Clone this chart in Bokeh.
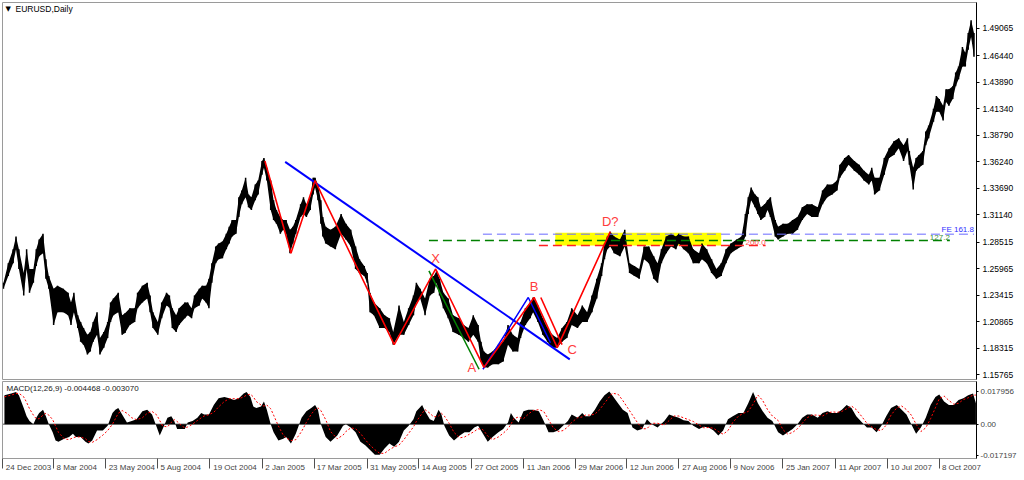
from bokeh.plotting import figure
from bokeh.layouts import column
from bokeh.models import FixedTicker, NumeralTickFormatter, Label, Span, Range1d, ColumnDataSource
from bokeh.embed import file_html
from bokeh.resources import INLINE
from bokeh.core.properties import value

FONT = "Liberation Sans"

# ---------------- price data (bar index, high, low) ----------------
bars = [0,5,10,13,16,21,24,27,31,34,37,41,44,47,52,56,62,67,70,73,77,80,83,87,90,93,97,100,104,108,
        111,114,119,123,126,131,136,139,144,149,152,155,160,164,169,172,175,179,182,188,191,195,198,203,
        206,210,213,216,220,223,227,231,234,237,241,244,247,251,254,257,261,264,268,270,273,277,280,283,
        287,290,293,297,300,303,308,311,314,318,321,323,326,329,331,334,339,344,350,355,360,365,369,374,
        377,380,384,390,395,400,404,410,415,420,425,428,432,437,442,446,449,452,456,461,466,472,477,482,
        487,492,495,498,502,507,513,518,523,528,533,536,541,546,549,554,559,564,569,574,579,584,589,595,
        600,605,610,615,620,623,626,629,633,639,644,649,654,659,664,669,674,678,682,687,692,697,700,705,
        710,715,721,724,729,734,739,744,749,754,760,765,769,772,775,779,782,785,789,792,795,800,803,808,
        813,818,823,828,833,838,844,849,854,859,864,867,872,876,882,887,892,897,900,903,908,913,918,923,
        928,933,937,939,943,946,949,953,956,959,964,967,970,974,977,980,984,987,990,994,997,1000,1003,1006]

high = [1.2459,1.2648,1.2781,1.2904,1.2781,1.2554,1.2781,1.2591,1.2591,1.2781,1.2875,1.2932,1.2686,1.2525,
        1.2402,1.2431,1.2402,1.2364,1.2270,1.2364,1.2147,1.2081,1.2024,1.1958,1.1986,1.2081,1.2175,1.1929,
        1.1986,1.2081,1.2270,1.2308,1.2364,1.2147,1.2166,1.2213,1.2213,1.2364,1.2431,1.2459,1.2336,1.2175,
        1.2081,1.2270,1.2364,1.2336,1.2213,1.2147,1.2213,1.2270,1.2270,1.2213,1.2336,1.2402,1.2431,1.2431,
        1.2497,1.2648,1.2809,1.2837,1.2856,1.2932,1.2998,1.3064,1.3064,1.3282,1.3348,1.3471,1.3310,1.3282,
        1.3405,1.3443,1.3632,1.3660,1.3566,1.3443,1.3254,1.3159,1.3093,1.3064,1.3064,1.2970,1.2998,1.3064,
        1.3216,1.3282,1.3216,1.3282,1.3471,1.3471,1.3405,1.3254,1.3093,1.2998,1.2970,1.2998,1.3121,1.3027,
        1.2970,1.2809,1.2686,1.2620,1.2554,1.2364,1.2270,1.2213,1.2147,1.2118,1.1986,1.2241,1.2081,1.2213,
        1.2336,1.2459,1.2402,1.2308,1.2497,1.2525,1.2572,1.2497,1.2364,1.2308,1.2147,1.2118,1.2052,1.2024,
        1.2147,1.2052,1.1891,1.1797,1.1768,1.1797,1.1863,1.1891,1.2052,1.1958,1.1929,1.2081,1.2213,1.2270,
        1.2317,1.2241,1.2118,1.2024,1.1958,1.1929,1.2024,1.2081,1.2213,1.2147,1.2241,1.2175,1.2336,1.2497,
        1.2648,1.2837,1.2904,1.2951,1.2904,1.2875,1.2970,1.2648,1.2620,1.2591,1.2809,1.2809,1.2714,1.2648,
        1.2781,1.2904,1.2932,1.2904,1.2932,1.2904,1.2904,1.2781,1.2743,1.2837,1.2781,1.2686,1.2591,1.2648,
        1.2781,1.2837,1.2875,1.2904,1.3121,1.3282,1.3377,1.3310,1.3282,1.3187,1.3216,1.3254,1.3282,1.3064,
        1.2998,1.3027,1.3027,1.3064,1.3093,1.3187,1.3216,1.3216,1.3187,1.3348,1.3405,1.3405,1.3443,1.3594,
        1.3660,1.3689,1.3632,1.3594,1.3537,1.3500,1.3566,1.3471,1.3471,1.3660,1.3755,1.3821,1.3850,1.3783,
        1.3850,1.3727,1.3566,1.3660,1.3689,1.3727,1.3916,1.3973,1.4133,1.4256,1.4228,1.4162,1.4323,1.4323,
        1.4351,1.4483,1.4540,1.4729,1.4673,1.4862,1.4985,1.4862]

low = [1.2402,1.2525,1.2648,1.2781,1.2591,1.2336,1.2591,1.2364,1.2459,1.2620,1.2714,1.2743,1.2497,1.2402,
       1.2052,1.2175,1.2175,1.2147,1.2052,1.2175,1.2024,1.1891,1.1863,1.1768,1.1797,1.1891,1.1958,1.1768,
       1.1835,1.1929,1.2081,1.2147,1.2175,1.1958,1.1977,1.2052,1.2081,1.2213,1.2270,1.2308,1.2175,1.2024,
       1.1958,1.2118,1.2241,1.2222,1.2024,1.1986,1.2052,1.2118,1.2147,1.2118,1.2213,1.2241,1.2308,1.2270,
       1.2213,1.2459,1.2648,1.2686,1.2696,1.2781,1.2837,1.2904,1.2932,1.3093,1.3216,1.3282,1.3187,1.3159,
       1.3254,1.3310,1.3500,1.3566,1.3443,1.3159,1.3064,1.3027,1.2932,1.2970,1.2932,1.2743,1.2837,1.2932,
       1.3093,1.3121,1.3093,1.3159,1.3310,1.3377,1.3254,1.3027,1.2904,1.2837,1.2809,1.2781,1.2932,1.2875,
       1.2809,1.2591,1.2554,1.2525,1.2459,1.2175,1.2147,1.2024,1.2024,1.1986,1.1863,1.1958,1.1958,1.2052,
       1.2147,1.2270,1.2308,1.2147,1.2336,1.2364,1.2459,1.2336,1.2213,1.2118,1.1986,1.1958,1.1929,1.1891,
       1.1958,1.1891,1.1702,1.1645,1.1645,1.1674,1.1674,1.1702,1.1863,1.1797,1.1797,1.1929,1.2052,1.2118,
       1.2175,1.2081,1.1958,1.1891,1.1835,1.1835,1.1891,1.1929,1.2052,1.2024,1.2081,1.2081,1.2175,1.2308,
       1.2525,1.2686,1.2781,1.2809,1.2743,1.2714,1.2809,1.2554,1.2525,1.2497,1.2686,1.2648,1.2497,1.2459,
       1.2648,1.2743,1.2809,1.2781,1.2837,1.2781,1.2743,1.2648,1.2648,1.2686,1.2648,1.2554,1.2497,1.2525,
       1.2648,1.2743,1.2781,1.2809,1.2904,1.3121,1.3254,1.3187,1.3121,1.3064,1.3093,1.3159,1.3093,1.2904,
       1.2875,1.2904,1.2932,1.2932,1.2970,1.3064,1.3121,1.3093,1.3093,1.3216,1.3282,1.3310,1.3348,1.3471,
       1.3537,1.3594,1.3537,1.3500,1.3443,1.3405,1.3443,1.3310,1.3348,1.3500,1.3660,1.3689,1.3755,1.3632,
       1.3727,1.3594,1.3358,1.3537,1.3566,1.3594,1.3783,1.3850,1.4010,1.4105,1.4105,1.4020,1.4200,1.4162,
       1.4228,1.4351,1.4417,1.4540,1.4540,1.4701,1.4824,1.4635]

# ---------------- MACD(12,26,9) ----------------
macd_bars = [1,8,13,16,21,24,27,31,34,37,41,44,47,51,54,57,63,68,72,75,80,85,88,92,97,103,108,113,116,119,
             123,128,133,138,144,149,154,159,162,165,170,174,177,180,185,188,191,196,201,205,208,213,218,223,
             229,234,239,244,249,252,256,259,262,267,270,273,277,280,285,290,293,298,303,309,314,319,323,326,
             329,334,339,346,352,355,360,365,370,375,380,385,390,395,400,405,410,415,420,425,428,434,437,442,
             446,451,454,457,462,467,473,478,483,488,492,497,502,507,513,518,523,526,529,534,539,544,549,555,
             560,565,570,575,580,585,589,595,600,603,608,613,618,623,628,631,637,642,647,652,657,662,667,672,
             678,685,690,695,700,705,710,715,721,726,731,736,741,746,751,756,762,767,772,777,782,787,792,797,
             803,808,813,818,823,828,833,838,844,849,854,859,864,869,874,879,884,890,895,900,905,910,915,920,
             926,931,936,941,946,951,956,961,966,970,975,980,985,990,995,1000,1005,1008]

macd = [0.0159,0.0168,0.0177,0.0159,0.0089,0.0044,0.0018,0.0000,0.0035,0.0062,0.0080,0.0044,0.0000,-0.0044,
        -0.0089,-0.0097,-0.0080,-0.0071,-0.0053,-0.0071,-0.0071,-0.0097,-0.0106,-0.0089,-0.0035,-0.0035,-0.0009,
        0.0062,0.0080,0.0089,0.0053,0.0009,0.0018,0.0027,0.0071,0.0080,0.0053,-0.0018,-0.0062,-0.0027,0.0035,
        0.0044,0.0018,-0.0027,-0.0027,-0.0027,0.0009,0.0018,0.0035,0.0062,0.0053,0.0053,0.0106,0.0142,0.0150,
        0.0142,0.0133,0.0142,0.0168,0.0177,0.0150,0.0097,0.0089,0.0097,0.0124,0.0080,0.0000,-0.0044,-0.0089,
        -0.0080,-0.0071,-0.0106,-0.0053,0.0035,0.0071,0.0089,0.0106,0.0080,0.0000,-0.0071,-0.0097,-0.0062,
        -0.0009,0.0000,-0.0018,-0.0044,-0.0097,-0.0115,-0.0142,-0.0168,-0.0168,-0.0133,-0.0106,-0.0124,-0.0097,
        -0.0035,-0.0009,0.0027,0.0071,0.0106,0.0071,0.0027,0.0018,0.0080,0.0053,-0.0009,-0.0062,-0.0089,-0.0062,
        -0.0044,-0.0044,-0.0018,-0.0009,-0.0053,-0.0097,-0.0071,-0.0044,-0.0027,0.0009,0.0062,0.0035,0.0009,
        0.0071,0.0080,0.0080,0.0071,0.0018,-0.0044,-0.0044,-0.0035,-0.0009,0.0018,0.0053,0.0035,0.0062,0.0044,
        0.0044,0.0080,0.0124,0.0159,0.0179,0.0159,0.0115,0.0080,0.0062,-0.0018,-0.0035,-0.0027,0.0027,0.0000,
        -0.0018,0.0018,0.0053,0.0044,0.0035,0.0021,0.0018,-0.0009,-0.0027,-0.0014,-0.0018,-0.0035,-0.0062,-0.0035,
        0.0027,0.0044,0.0062,0.0062,0.0115,0.0177,0.0115,0.0071,0.0035,0.0018,-0.0044,-0.0062,-0.0044,-0.0027,
        0.0000,0.0035,0.0053,0.0053,0.0035,0.0062,0.0071,0.0062,0.0062,0.0080,0.0106,0.0089,0.0044,0.0009,
        -0.0018,-0.0018,-0.0044,-0.0009,0.0044,0.0089,0.0106,0.0080,0.0053,0.0000,-0.0053,-0.0018,0.0035,0.0106,
        0.0150,0.0163,0.0124,0.0106,0.0106,0.0133,0.0142,0.0159,0.0168,0.0115]

signal = [0.0150,0.0160,0.0168,0.0170,0.0150,0.0120,0.0085,0.0050,0.0030,0.0030,0.0050,0.0060,0.0050,0.0025,
          -0.0010,-0.0045,-0.0080,-0.0085,-0.0075,-0.0070,-0.0070,-0.0080,-0.0095,-0.0100,-0.0085,-0.0060,-0.0035,
          0.0000,0.0030,0.0060,0.0075,0.0060,0.0035,0.0025,0.0035,0.0060,0.0070,0.0050,0.0020,-0.0010,-0.0015,
          0.0010,0.0025,0.0015,-0.0010,-0.0020,-0.0015,0.0000,0.0020,0.0035,0.0045,0.0052,0.0065,0.0095,0.0125,
          0.0140,0.0140,0.0140,0.0150,0.0160,0.0165,0.0150,0.0125,0.0105,0.0100,0.0105,0.0085,0.0050,-0.0010,
          -0.0060,-0.0075,-0.0090,-0.0085,-0.0040,0.0010,0.0055,0.0080,0.0090,0.0075,0.0025,-0.0040,-0.0080,
          -0.0060,-0.0040,-0.0020,-0.0025,-0.0050,-0.0085,-0.0115,-0.0140,-0.0160,-0.0160,-0.0140,-0.0125,-0.0115,
          -0.0085,-0.0050,-0.0015,0.0015,0.0060,0.0080,0.0060,0.0040,0.0045,0.0060,0.0045,0.0005,-0.0045,-0.0075,
          -0.0070,-0.0055,-0.0040,-0.0025,-0.0030,-0.0065,-0.0085,-0.0070,-0.0050,-0.0025,0.0000,0.0030,0.0040,
          0.0030,0.0055,0.0075,0.0080,0.0070,0.0025,-0.0020,-0.0040,-0.0035,-0.0015,0.0010,0.0035,0.0040,0.0050,
          0.0050,0.0055,0.0080,0.0115,0.0150,0.0170,0.0165,0.0130,0.0090,0.0050,0.0010,-0.0025,-0.0025,0.0005,
          0.0005,-0.0005,0.0020,0.0045,0.0045,0.0035,0.0025,0.0015,-0.0005,-0.0020,-0.0018,-0.0022,-0.0040,-0.0055,
          -0.0035,0.0010,0.0045,0.0060,0.0070,0.0110,0.0160,0.0130,0.0080,0.0045,0.0020,-0.0030,-0.0055,-0.0045,
          -0.0025,0.0005,0.0035,0.0050,0.0050,0.0045,0.0060,0.0068,0.0065,0.0070,0.0085,0.0100,0.0080,0.0040,
          0.0005,-0.0015,-0.0030,-0.0035,-0.0005,0.0050,0.0090,0.0100,0.0080,0.0050,0.0000,-0.0040,-0.0020,0.0030,
          0.0090,0.0140,0.0155,0.0130,0.0110,0.0115,0.0135,0.0145,0.0160,0.0160]

assert len(bars) == len(high) == len(low), (len(bars), len(high), len(low))
assert len(macd_bars) == len(macd) == len(signal), (len(macd_bars), len(macd), len(signal))

# ---------------- axes ----------------
price_ticks = [1.15765, 1.18315, 1.20865, 1.23415, 1.25965, 1.28515, 1.31140,
               1.33690, 1.36240, 1.38790, 1.41340, 1.43890, 1.46440, 1.49065]
macd_ticks = [-0.017197, 0.0, 0.017956]
macd_tick_text = ["-0.017197", "0.00", "0.017956"]
date_labels = ["24 Dec 2003", "8 Mar 2004", "23 May 2004", "5 Aug 2004", "19 Oct 2004", "2 Jan 2005",
               "17 Mar 2005", "31 May 2005", "14 Aug 2005", "27 Oct 2005", "11 Jan 2006", "29 Mar 2006",
               "12 Jun 2006", "27 Aug 2006", "9 Nov 2006", "25 Jan 2007", "11 Apr 2007", "10 Jul 2007",
               "8 Oct 2007"]
date_bars = [-1, 52, 106, 160, 214, 268, 322, 377, 430, 485, 539, 593, 646, 700, 754, 808, 862, 916, 970]

# ---------------- drawn objects ----------------
trend_bars = [292, 587]
trend_prices = [1.3623, 1.1722]
zigzag_bars = [271, 298, 323, 405, 448, 498, 550, 574, 629]
zigzag_prices = [1.3632, 1.2743, 1.3443, 1.1864, 1.2592, 1.1645, 1.2318, 1.1835, 1.2951]
bc2_bars = [557, 579]
bc2_prices = [1.2318, 1.1864]
abc_bars = [497, 544, 567]
abc_prices = [1.1627, 1.2318, 1.1882]
xa_bars = [441, 493]
xa_prices = [1.2573, 1.1627]
zone_bars = [572, 744]
zone_prices = [1.2818, 1.2941]
level_names = ["FE 161.8", "127.2", "200.0"]
level_values = [1.2927, 1.2866, 1.2818]
level_start = [497, 441, 555]
level_end = [1006, 981, 790]
pat_names = ["X", "A", "B", "C", "D?"]
pat_bars = [448, 498, 550, 574, 629]
pat_prices = [1.2592, 1.1645, 1.2318, 1.1835, 1.2951]

# styles
level_line_colors = ["#7070ff", "#008000", "#ff2020"]
level_line_alpha = [0.7, 1.0, 1.0]
level_text_colors = ["#3030ff", "#3a8f3a", "#ff5050"]
pat_dx = [0, -12, 0, 15, 0]
pat_dy = [-10, 0, -11, 2, -10]

X0, X1 = -1.0, 1008.6
FW = 974
HM = 377
HD = 77
xr = Range1d(X0, X1)

def style_common(p):
    p.grid.visible = False
    p.background_fill_color = "white"
    p.border_fill_color = "white"

# ---------------- main price panel ----------------
p1 = figure(frame_width=FW, frame_height=HM, x_range=xr, y_range=Range1d(1.15284, 1.51567),
            x_axis_location=None, y_axis_location="right", toolbar_location=None,
            output_backend="svg", min_border_left=2, min_border_right=0,
            min_border_top=2, min_border_bottom=2, outline_line_color="#9a9a9a")
style_common(p1)
ya = p1.yaxis[0]
ya.ticker = FixedTicker(ticks=price_ticks)
ya.formatter = NumeralTickFormatter(format="0.00000")
ya.major_tick_out = 3
ya.major_tick_in = 0
ya.minor_tick_line_color = None
ya.axis_line_color = "black"
ya.major_tick_line_color = "black"
ya.major_label_standoff = 3
ya.major_label_text_font = FONT
ya.major_label_text_font_size = "8.5px"
ya.major_label_text_color = "black"

# target zone
p1.quad(left=[zone_bars[0]], right=[zone_bars[1]], bottom=[zone_prices[0]], top=[zone_prices[1]],
        fill_color="#ffff00", line_color=None)

# price bars
p1.varea(x=bars, y1=low, y2=high, fill_color="black")
p1.segment(x0=bars, y0=low, x1=bars, y1=high, line_color="black", line_width=1.5)

# fibo levels
for i, name in enumerate(level_names):
    p1.line([level_start[i], level_end[i]], [level_values[i], level_values[i]],
            line_color=level_line_colors[i], line_alpha=level_line_alpha[i],
            line_width=1.6 if i == 0 else 1.3, line_dash="9 5")
    p1.text(x=[level_end[i]], y=[level_values[i]], text=[name], text_align="right",
            text_baseline="bottom", y_offset=-0.5, text_font=value(FONT), text_font_size="8px",
            text_color=level_text_colors[i])

# trend line and pattern
p1.line(trend_bars, trend_prices, line_color="#0000ff", line_width=2)
p1.line(xa_bars, xa_prices, line_color="#008000", line_width=1.5)
p1.line(abc_bars, abc_prices, line_color="#0000ff", line_width=1.5)
p1.line(zigzag_bars, zigzag_prices, line_color="#ff0000", line_width=1.6)
p1.line(bc2_bars, bc2_prices, line_color="#ff0000", line_width=1.6)

pat_src = ColumnDataSource(dict(x=pat_bars, y=pat_prices, t=pat_names, dx=pat_dx, dy=pat_dy))
p1.text(x="x", y="y", text="t", x_offset="dx", y_offset="dy", source=pat_src,
        text_align="center", text_baseline="middle", text_font=value(FONT),
        text_font_size="13px", text_color="#ff3c3c")

p1.add_layout(Label(x=3, y=HM - 6, x_units="screen", y_units="screen", text="\u25bc",
                    text_font="DejaVu Sans", text_font_size="7px", text_baseline="middle",
                    text_color="black"))
p1.add_layout(Label(x=13, y=HM - 6, x_units="screen", y_units="screen", text="EURUSD,Daily",
                    text_font=FONT, text_font_size="8.5px", text_baseline="middle",
                    text_color="black"))

# ---------------- MACD panel ----------------
p2 = figure(frame_width=FW, frame_height=HD, x_range=xr, y_range=Range1d(-0.01884, 0.02345),
            y_axis_location="right", x_axis_location="below", toolbar_location=None,
            output_backend="svg", min_border_left=2, min_border_right=0,
            min_border_top=0, min_border_bottom=0, outline_line_color="#9a9a9a")
style_common(p2)
p2.add_layout(Span(location=0, dimension="width", line_color="#8c8c8c", line_width=1.5, level="underlay"))
p2.varea(x=macd_bars, y1=0, y2=macd, fill_color="black")
p2.line(macd_bars, signal, line_color="#ff0000", line_dash="2 2", line_width=1)

y2 = p2.yaxis[0]
y2.ticker = FixedTicker(ticks=macd_ticks)
y2.major_label_overrides = {t: s for t, s in zip(macd_ticks, macd_tick_text)}
y2.major_tick_out = 2
y2.major_tick_in = 0
y2.minor_tick_line_color = None
y2.axis_line_color = "black"
y2.major_label_standoff = 2
y2.major_label_text_font = FONT
y2.major_label_text_font_size = "8px"

# date axis: MT4 puts the tick mark at the left edge of each label
CW = {" ": .278, ".": .278, "A": .667, "D": .722, "J": .5, "M": .833, "N": .722, "O": .778,
      "a": .556, "c": .5, "e": .556, "g": .556, "l": .222, "n": .556, "o": .556, "p": .556,
      "r": .333, "t": .278, "u": .556, "v": .5, "y": .5}
FS = 8.0
px_per_bar = FW / (X1 - X0)
centers = []
for b, s in zip(date_bars, date_labels):
    w = sum(CW.get(ch, .556) for ch in s) * FS
    centers.append(int(round(b + (3 + w / 2) / px_per_bar)))
xa = p2.xaxis[0]
xa.ticker = FixedTicker(ticks=centers, minor_ticks=date_bars)
xa.major_label_overrides = {c: s for c, s in zip(centers, date_labels)}
xa.major_tick_line_color = None
xa.major_tick_out = 0
xa.major_tick_in = 0
xa.minor_tick_out = 10
xa.minor_tick_in = 0
xa.minor_tick_line_color = "#505050"
xa.axis_line_color = None
xa.major_label_standoff = -6
xa.major_label_text_font = FONT
xa.major_label_text_font_size = "8px"

p2.add_layout(Label(x=4, y=HD - 7, x_units="screen", y_units="screen",
                    text="MACD(12,26,9) -0.004468 -0.003070", text_font=FONT,
                    text_font_size="8px", text_baseline="middle", text_color="#202020"))

layout = column(p1, p2)
open("out.html", "w").write(file_html(layout, INLINE))
